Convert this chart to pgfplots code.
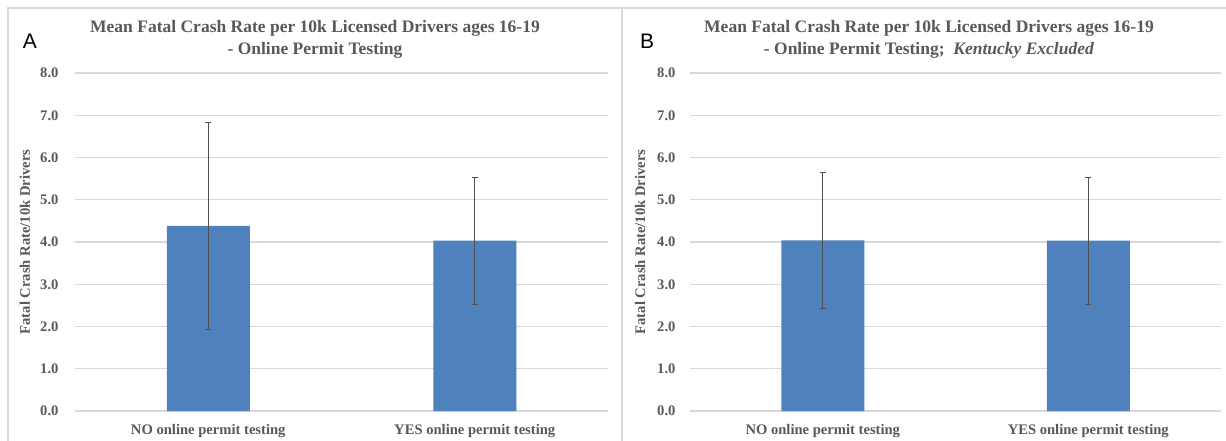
\documentclass[border=0pt]{standalone}
\usepackage{pgfplots}
\pgfplotsset{compat=1.18}
\usepackage{pgfplotstable}
\usepackage{fontspec}
\setmainfont{Liberation Serif}
\setsansfont{Liberation Sans}
\definecolor{barblue}{RGB}{79,129,189}
\definecolor{txtgrey}{RGB}{89,89,89}
\definecolor{gridgrey}{RGB}{217,217,217}
\definecolor{errgrey}{RGB}{80,80,80}

\pgfplotstableread{
x y err
0 4.38 2.45
1 4.03 1.50
}\dataA
\pgfplotstableread{
x y err
0 4.04 1.61
1 4.03 1.50
}\dataB

\pgfplotsset{panel/.style={
  scale only axis, height=338pt,
  ymin=0, ymax=8, ytick={0,1,...,8},
  xmin=-0.5, xmax=1.5, xtick={0,1},
  xticklabels={NO online permit testing, YES online permit testing},
  axis x line=bottom, axis y line=left,
  y axis line style={draw=none},
  x axis line style={draw=gridgrey, line width=1.2pt, -},
  major tick length=0pt,
  ymajorgrids, grid style={draw=gridgrey, line width=1.1pt},
  tick label style={font=\fontsize{14.6}{16}\selectfont\bfseries, text=txtgrey},
  /pgf/number format/assume math mode=true,
  yticklabel style={/pgf/number format/fixed, /pgf/number format/fixed zerofill, /pgf/number format/precision=1},
  xticklabel style={yshift=-10pt},
  ylabel={Fatal Crash Rate/10k Drivers},
  every axis y label/.style={at={(axis description cs:0,0.5)}, xshift=-50pt, rotate=90, anchor=center, font=\fontsize{14.6}{16}\selectfont\bfseries, text=txtgrey},
  ybar, bar width=83pt,
  clip=false,
}}

\begin{document}
\begin{tikzpicture}[x=1pt,y=1pt]
\useasboundingbox (0,0) rectangle (1226,440);
\fill[white] (0,0) rectangle (1226,440);
\draw[gridgrey, line width=1.3pt] (8,-5) -- (8,432) -- (1230,432);
\draw[gridgrey, line width=1.3pt] (622,-5) -- (622,432);

\begin{axis}[panel, width=533pt, at={(75pt,29pt)}, anchor=south west,
  yticklabel style={xshift=-13pt}]
\addplot[fill=barblue, draw=none,
  error bars/.cd, y dir=both, y explicit,
  error bar style={draw=errgrey, line width=1.3pt},
  error mark options={rotate=90, mark size=3pt, draw=errgrey, line width=1.1pt}]
  table[x=x, y=y, y error=err] {\dataA};
\end{axis}

\begin{axis}[panel, width=531pt, at={(690pt,29pt)}, anchor=south west,
  yticklabel style={xshift=-11pt}]
\addplot[fill=barblue, draw=none,
  error bars/.cd, y dir=both, y explicit,
  error bar style={draw=errgrey, line width=1.3pt},
  error mark options={rotate=90, mark size=3pt, draw=errgrey, line width=1.1pt}]
  table[x=x, y=y, y error=err] {\dataB};
\end{axis}

\node[align=center, font=\fontsize{17.5}{22}\selectfont\bfseries, text=txtgrey] at (315,401)
  {Mean Fatal Crash Rate per 10k Licensed Drivers ages 16-19\\- Online Permit Testing};
\node[align=center, font=\fontsize{17.5}{22}\selectfont\bfseries, text=txtgrey] at (929,401)
  {Mean Fatal Crash Rate per 10k Licensed Drivers ages 16-19\\- Online Permit Testing;\ \ \textit{Kentucky Excluded}};
\node[font=\sffamily\fontsize{21}{21}\selectfont] at (30,399) {A};
\node[font=\sffamily\fontsize{21}{21}\selectfont] at (647,399) {B};
\end{tikzpicture}
\end{document}
